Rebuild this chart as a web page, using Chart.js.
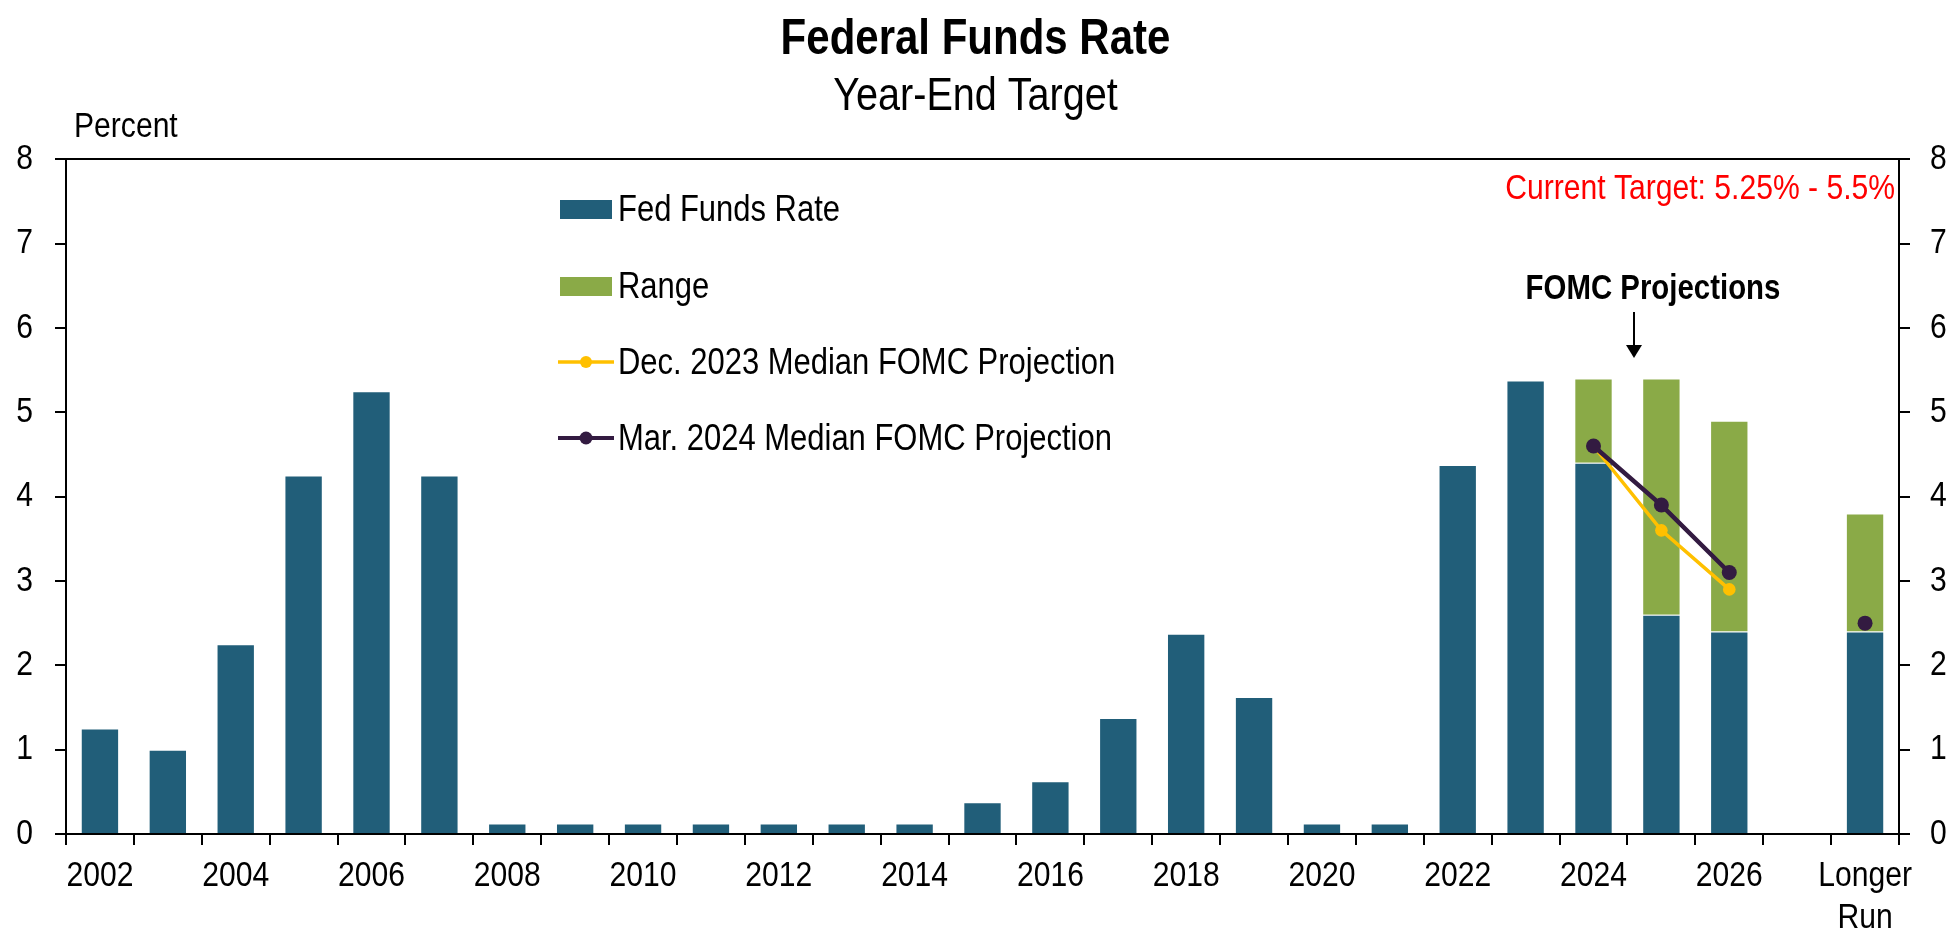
<!DOCTYPE html>
<html lang="en">
<head>
    <meta charset="UTF-8">
    <title>Federal Funds Rate - Year-End Target</title>
    <script src="https://cdn.jsdelivr.net/npm/chart.js"></script>
    <style>
        html, body { margin: 0; padding: 0; background: #fff; }
        #wrap { width: 1951px; height: 937px; }
    </style>
</head>
<body>
    <div id="wrap"><canvas id="fedChart" width="1951" height="937"></canvas></div>
    <script>
        // categories along the x axis (one empty slot before "Longer Run")
        const categories = ['2002', '2003', '2004', '2005', '2006', '2007', '2008', '2009', '2010',
            '2011', '2012', '2013', '2014', '2015', '2016', '2017', '2018', '2019', '2020',
            '2021', '2022', '2023', '2024', '2025', '2026', '', 'Longer Run'];
        // which categories get a printed label
        const shownLabels = ['2002', '2004', '2006', '2008', '2010', '2012', '2014', '2016',
            '2018', '2020', '2022', '2024', '2026', 'Longer Run'];

        const fedFunds = [1.25, 1.0, 2.25, 4.25, 5.25, 4.25, 0.125, 0.125, 0.125,
            0.125, 0.125, 0.125, 0.125, 0.375, 0.625, 1.375, 2.375, 1.625, 0.125,
            0.125, 4.375, 5.375, 4.4, 2.6, 2.4, null, 2.4];
        const rangeLow = [null, null, null, null, null, null, null, null, null,
            null, null, null, null, null, null, null, null, null, null,
            null, null, null, 4.4, 2.6, 2.4, null, 2.4];
        const rangeHigh = [null, null, null, null, null, null, null, null, null,
            null, null, null, null, null, null, null, null, null, null,
            null, null, null, 5.4, 5.4, 4.9, null, 3.8];
        const dec2023 = [null, null, null, null, null, null, null, null, null,
            null, null, null, null, null, null, null, null, null, null,
            null, null, null, 4.6, 3.6, 2.9, null, null];
        const mar2024 = [null, null, null, null, null, null, null, null, null,
            null, null, null, null, null, null, null, null, null, null,
            null, null, null, 4.6, 3.9, 3.1, null, 2.5];

        const yTicks = [0, 1, 2, 3, 4, 5, 6, 7, 8];

        const BLUE = '#215E79';
        const GREEN = '#8AAA47';
        const YELLOW = '#FFC000';
        const PURPLE = '#331B41';
        const FONT = '"Liberation Sans Narrow", "Arial Narrow", "Liberation Sans", Arial, sans-serif';

        // no narrow face installed: squeeze text horizontally around its anchor point
        const origFillText = CanvasRenderingContext2D.prototype.fillText;
        CanvasRenderingContext2D.prototype.fillText = function (text, x, y, maxWidth) {
            const sx = this.font.indexOf('bold') >= 0 ? 0.84 : 0.86;
            this.save();
            this.translate(x, y);
            this.scale(sx, 1);
            origFillText.call(this, text, 0, 0);
            this.restore();
        };

        const rangeData = rangeLow.map((lo, i) => (lo === null ? null : [lo, rangeHigh[i]]));

        // legend, notes and the "Percent" label drawn over the chart
        const overlay = {
            id: 'overlay',
            afterDraw(chart) {
                const c = chart.ctx;
                c.save();
                c.fillStyle = '#000';
                c.textBaseline = 'alphabetic';

                c.font = '35px ' + FONT;
                c.textAlign = 'left';
                c.fillText('Percent', 74, 137);

                // legend
                const lx = 560, tx = 618;
                c.font = '36px ' + FONT;
                c.fillStyle = BLUE;
                c.fillRect(lx, 200, 52, 19);
                c.fillStyle = GREEN;
                c.fillRect(lx, 277, 52, 19);

                c.lineWidth = 3.5;
                c.strokeStyle = YELLOW;
                c.beginPath(); c.moveTo(lx - 2, 362); c.lineTo(lx + 54, 362); c.stroke();
                c.fillStyle = YELLOW;
                c.beginPath(); c.arc(lx + 26, 362, 6, 0, Math.PI * 2); c.fill();

                c.lineWidth = 4;
                c.strokeStyle = PURPLE;
                c.beginPath(); c.moveTo(lx - 2, 438); c.lineTo(lx + 54, 438); c.stroke();
                c.fillStyle = PURPLE;
                c.beginPath(); c.arc(lx + 26, 438, 6.5, 0, Math.PI * 2); c.fill();

                c.fillStyle = '#000';
                c.fillText('Fed Funds Rate', tx, 221);
                c.fillText('Range', tx, 298);
                c.fillText('Dec. 2023 Median FOMC Projection', tx, 374);
                c.fillText('Mar. 2024 Median FOMC Projection', tx, 450);

                // current target note
                c.font = '35px ' + FONT;
                c.fillStyle = '#FF0000';
                c.textAlign = 'right';
                c.fillText('Current Target: 5.25% - 5.5%', 1895, 199);

                // FOMC projections label and arrow
                c.font = 'bold 35px ' + FONT;
                c.fillStyle = '#000';
                c.textAlign = 'center';
                c.fillText('FOMC Projections', 1653, 299);
                c.strokeStyle = '#000';
                c.lineWidth = 2;
                c.beginPath(); c.moveTo(1634, 312); c.lineTo(1634, 348); c.stroke();
                c.beginPath();
                c.moveTo(1626, 345); c.lineTo(1642, 345); c.lineTo(1634, 358);
                c.closePath(); c.fill();
                c.restore();
            }
        };

        const yScale = (pos, width, pad) => ({
            position: pos,
            min: 0,
            max: 8,
            afterBuildTicks: s => { s.ticks = yTicks.map(v => ({ value: v })); },
            afterFit: s => { s.width = width; },
            ticks: { color: '#000', padding: pad, font: { family: FONT, size: 35 } },
            grid: {
                drawOnChartArea: pos === 'left',
                color: ctx => (ctx.tick && ctx.tick.value === 8 ? '#000' : 'rgba(0,0,0,0)'),
                tickColor: '#000',
                tickLength: 11,
                lineWidth: 2
            },
            border: { color: '#000', width: 2 }
        });

        new Chart(document.getElementById('fedChart'), {
            type: 'bar',
            data: {
                labels: categories,
                datasets: [
                    {
                        type: 'line',
                        label: 'Mar. 2024 Median FOMC Projection',
                        data: mar2024,
                        borderColor: PURPLE,
                        backgroundColor: PURPLE,
                        borderWidth: 4.5,
                        pointRadius: 7.5,
                        pointBorderWidth: 0,
                        spanGaps: false,
                        order: 0
                    },
                    {
                        type: 'line',
                        label: 'Dec. 2023 Median FOMC Projection',
                        data: dec2023,
                        borderColor: YELLOW,
                        backgroundColor: YELLOW,
                        borderWidth: 3.5,
                        pointRadius: 6.3,
                        pointBorderWidth: 0,
                        spanGaps: false,
                        order: 1
                    },
                    {
                        label: 'Range',
                        data: rangeData,
                        backgroundColor: GREEN,
                        borderColor: 'rgba(255,255,255,0.55)',
                        borderWidth: 1,
                        grouped: false,
                        barPercentage: 0.565,
                        categoryPercentage: 1,
                        order: 2
                    },
                    {
                        label: 'Fed Funds Rate',
                        data: fedFunds,
                        backgroundColor: BLUE,
                        borderColor: 'rgba(255,255,255,0.55)',
                        borderWidth: 1,
                        grouped: false,
                        barPercentage: 0.565,
                        categoryPercentage: 1,
                        order: 3
                    }
                ]
            },
            options: {
                responsive: false,
                animation: false,
                layout: { padding: 0 },
                plugins: {
                    legend: { display: false },
                    tooltip: { enabled: false },
                    title: {
                        display: true,
                        text: 'Federal Funds Rate',
                        color: '#000',
                        font: { family: FONT, size: 50, weight: 'bold' },
                        padding: { top: 10, bottom: 0 }
                    },
                    subtitle: {
                        display: true,
                        text: 'Year-End Target',
                        color: '#000',
                        font: { family: FONT, size: 46 },
                        padding: { top: 0, bottom: 34 }
                    }
                },
                scales: {
                    x: {
                        offset: true,
                        afterFit: s => { s.height = 103; },
                        ticks: {
                            autoSkip: false,
                            maxRotation: 0,
                            color: '#000',
                            padding: 10,
                            font: { family: FONT, size: 35 },
                            callback(value) {
                                const lab = categories[value];
                                if (!shownLabels.includes(lab)) return '';
                                return lab === 'Longer Run' ? ['Longer', 'Run'] : lab;
                            }
                        },
                        grid: {
                            offset: true,
                            drawOnChartArea: false,
                            color: '#000',
                            tickLength: 11,
                            lineWidth: 2
                        },
                        border: { color: '#000', width: 2 }
                    },
                    y: yScale('left', 66, 22),
                    y2: yScale('right', 52, 20)
                }
            },
            plugins: [overlay]
        });
    </script>
</body>
</html>
